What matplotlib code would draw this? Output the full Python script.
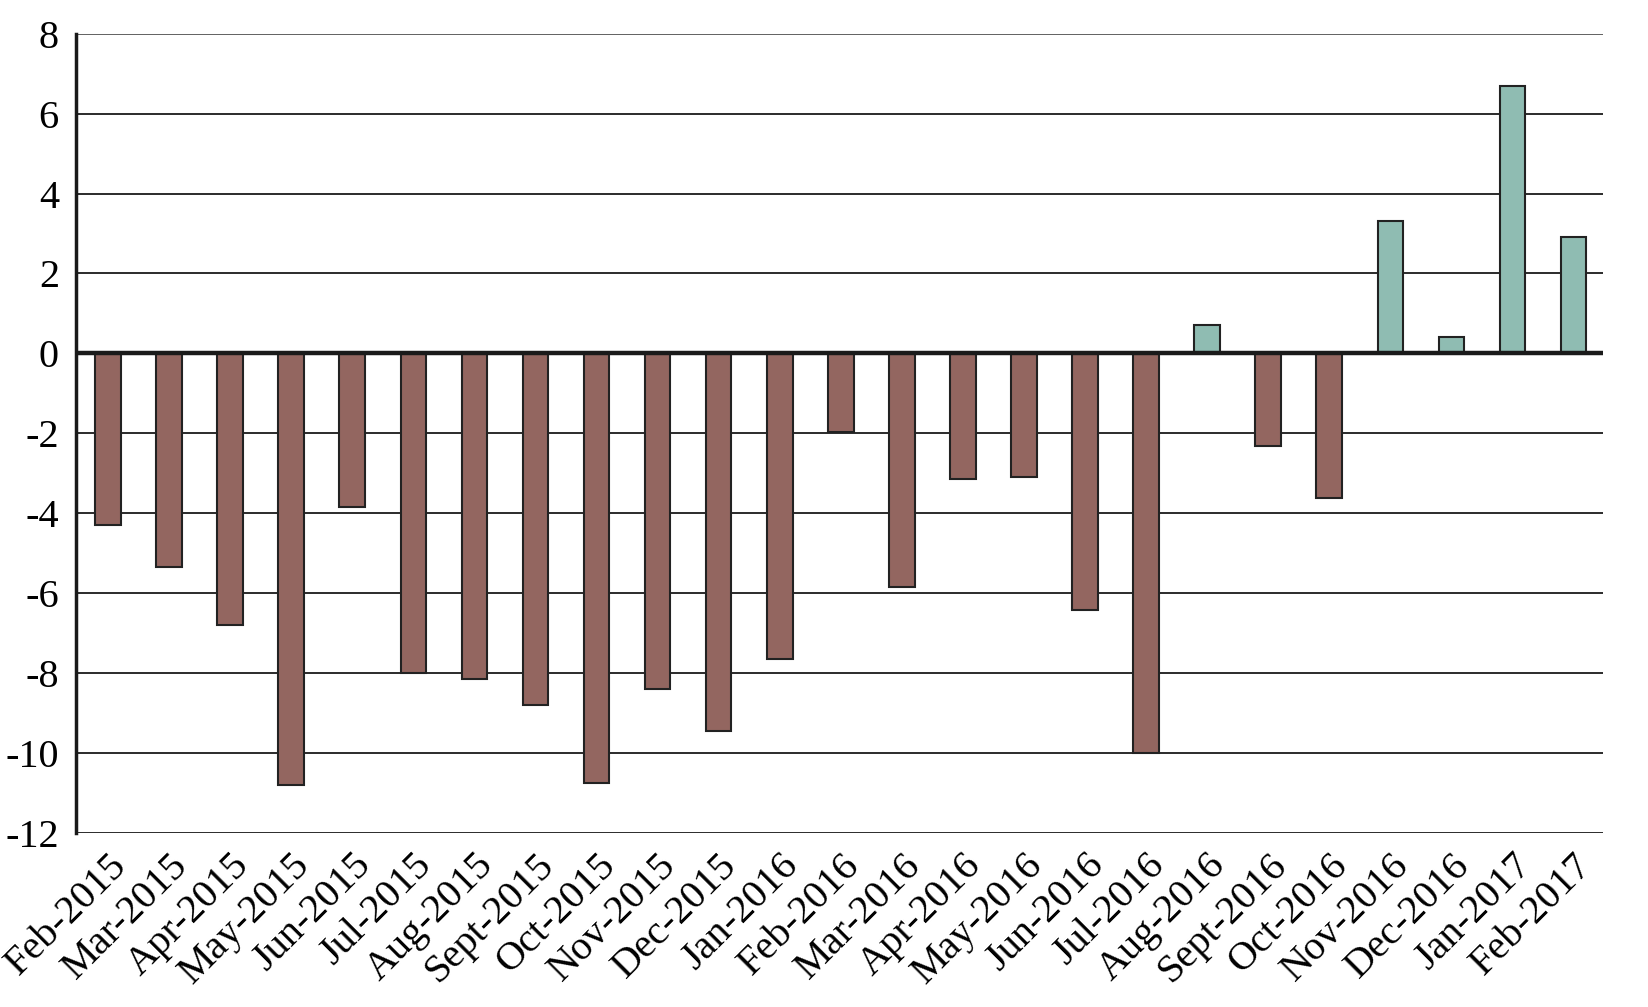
import numpy as np
import matplotlib
matplotlib.use('Agg')
import matplotlib.pyplot as plt

# ----- Datos -----
meses = ['Feb-2015', 'Mar-2015', 'Apr-2015', 'May-2015', 'Jun-2015', 'Jul-2015',
         'Aug-2015', 'Sept-2015', 'Oct-2015', 'Nov-2015', 'Dec-2015', 'Jan-2016',
         'Feb-2016', 'Mar-2016', 'Apr-2016', 'May-2016', 'Jun-2016', 'Jul-2016',
         'Aug-2016', 'Sept-2016', 'Oct-2016', 'Nov-2016', 'Dec-2016', 'Jan-2017',
         'Feb-2017']
valores = [-4.3, -5.35, -6.8, -10.8, -3.85, -8.0,
           -8.15, -8.8, -10.75, -8.4, -9.45, -7.65,
           -1.98, -5.85, -3.15, -3.1, -6.43, -10.0,
           0.71, -2.33, -3.62, 3.32, 0.4, 6.7,
           2.9]
ticks_y = [8, 6, 4, 2, 0, -2, -4, -6, -8, -10, -12]

COLOR_NEG = '#936660'
COLOR_POS = '#8fbcb2'

plt.rcParams['font.family'] = ['Liberation Serif', 'DejaVu Serif']

fig = plt.figure(figsize=(16.48, 10.07), dpi=100)
# posicion del area de graficos
ax = fig.add_axes([0.0459, 0.173, 0.9267, 0.7935])

x = np.arange(len(meses))
colores = [COLOR_POS if v > 0 else COLOR_NEG for v in valores]

# Lineas horizontales
for t in ticks_y:
    if t == 0:
        continue
    c = '#555555' if t == 8 else '#1a1a1a'
    ax.axhline(t, color=c, linewidth=1.3, zorder=1)

ax.bar(x, valores, width=0.42, color=colores, edgecolor='#222222',
       linewidth=1.5, zorder=2)
ax.axhline(0, color='#1a1a1a', linewidth=3.2, zorder=3)

ax.set_xlim(-0.53, len(meses) - 0.52)
ax.set_ylim(-12, 8)
ax.set_yticks(ticks_y)
ax.set_yticklabels([str(t) for t in ticks_y], fontsize=29)
ax.set_xticks(x)
ax.set_xticklabels(meses, fontsize=29, rotation=45, ha='right', va='top',
                   rotation_mode='anchor')
ax.tick_params(axis='both', length=0)
ax.tick_params(axis='y', pad=12)
ax.tick_params(axis='x', pad=10)

for lado in ['top', 'right', 'bottom']:
    ax.spines[lado].set_visible(False)
ax.spines['left'].set_linewidth(2.5)
ax.spines['left'].set_color('#1a1a1a')

plt.savefig('out.png', dpi=100)
